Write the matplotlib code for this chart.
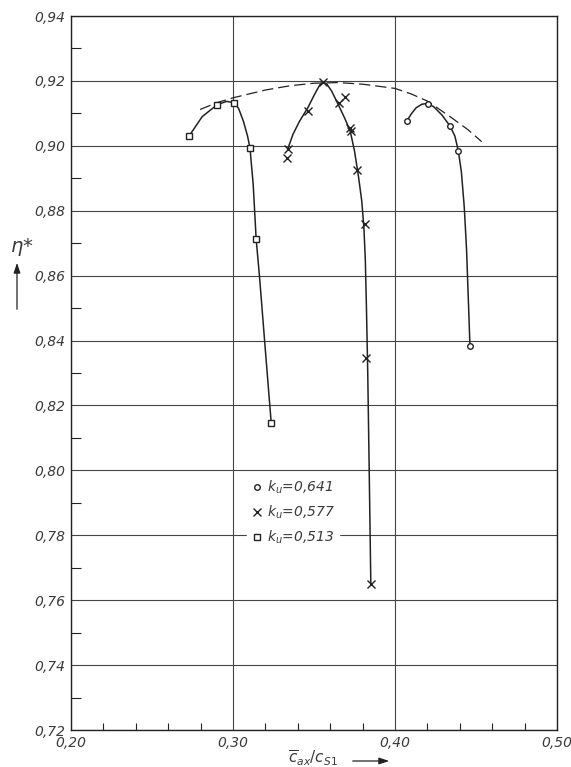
import matplotlib
matplotlib.use("Agg")
import matplotlib.pyplot as plt

# measured points, k_u = 0,641 (circles)
x_641 = [0.4073, 0.4202, 0.4340, 0.4391, 0.4463]
y_641 = [0.9076, 0.9129, 0.9061, 0.8985, 0.8383]

# k_u = 0,577 (crosses)
x_577 = [0.3338, 0.3334, 0.3465, 0.3556, 0.3689, 0.3652, 0.3724, 0.3730, 0.3765, 0.3812, 0.3820, 0.3851]
y_577 = [0.8990, 0.8963, 0.9107, 0.9197, 0.9151, 0.9133, 0.9055, 0.9047, 0.8925, 0.8759, 0.8345, 0.7650]

# k_u = 0,513 (squares)
x_513 = [0.2729, 0.2903, 0.3006, 0.3105, 0.3143, 0.3236]
y_513 = [0.9030, 0.9127, 0.9133, 0.8994, 0.8714, 0.8147]

# hand drawn curves
cx_641 = [0.4073, 0.4100, 0.4130, 0.4165, 0.4202, 0.4240, 0.4290, 0.4340, 0.4370, 0.4391,
          0.4410, 0.4428, 0.4442, 0.4452, 0.4463]
cy_641 = [0.9076, 0.9098, 0.9117, 0.9128, 0.9131, 0.9120, 0.9095, 0.9061, 0.9030, 0.8985,
          0.8920, 0.8810, 0.8680, 0.8540, 0.8383]

cx_577 = [0.3338, 0.3370, 0.3410, 0.3465, 0.3505, 0.3535, 0.3556, 0.3580, 0.3610, 0.3652,
          0.3690, 0.3724, 0.3750, 0.3775, 0.3795, 0.3808, 0.3817, 0.3824, 0.3832, 0.3841, 0.3851]
cy_577 = [0.8990, 0.9035, 0.9075, 0.9120, 0.9160, 0.9187, 0.9197, 0.9190, 0.9168, 0.9125,
          0.9085, 0.9045, 0.8985, 0.8905, 0.8830, 0.8750, 0.8650, 0.8500, 0.8300, 0.8000, 0.7650]

cx_513 = [0.2729, 0.2810, 0.2903, 0.2960, 0.3006, 0.3035, 0.3065, 0.3090, 0.3105, 0.3125,
          0.3143, 0.3165, 0.3200, 0.3236]
cy_513 = [0.9030, 0.9090, 0.9127, 0.9137, 0.9133, 0.9115, 0.9075, 0.9030, 0.8994, 0.8880,
          0.8714, 0.8590, 0.8370, 0.8147]

# dashed envelope
env_x = [0.2797, 0.290, 0.300, 0.310, 0.320, 0.335, 0.350, 0.365, 0.380, 0.400, 0.410, 0.420, 0.434, 0.445, 0.4535]
env_y = [0.9112, 0.9133, 0.9148, 0.9160, 0.9172, 0.9185, 0.9193, 0.9195, 0.9190, 0.9177, 0.9160, 0.9138, 0.9090, 0.9050, 0.9013]

xticks = [0.20, 0.30, 0.40, 0.50]
xlabels = ["0,20", "0,30", "0,40", "0,50"]
yticks = [0.72, 0.74, 0.76, 0.78, 0.80, 0.82, 0.84, 0.86, 0.88, 0.90, 0.92, 0.94]
ylabels = ["0,72", "0,74", "0,76", "0,78", "0,80", "0,82", "0,84", "0,86", "0,88", "0,90", "0,92", "0,94"]

ink = "#222222"
txt = "#3a3a3a"

fig = plt.figure(figsize=(5.71, 7.67), dpi=100)
ax = fig.add_axes([0.1243, 0.0482, 0.8511, 0.9309])

ax.plot(env_x, env_y, color=ink, lw=0.9, dashes=(9, 4))
ax.plot(cx_641, cy_641, color=ink, lw=1.1)
ax.plot(cx_577, cy_577, color=ink, lw=1.1)
ax.plot(cx_513, cy_513, color=ink, lw=1.1)

ax.plot(x_641, y_641, ls="none", marker="o", ms=4, mfc="white", mec=ink, mew=1.0,
        label=r"$k_u$=0,641", zorder=5)
ax.plot(x_577, y_577, ls="none", marker="x", ms=5.5, mec=ink, mew=1.0,
        label=r"$k_u$=0,577", zorder=5)
ax.plot(x_513, y_513, ls="none", marker="s", ms=5, mfc="white", mec=ink, mew=1.0,
        label=r"$k_u$=0,513", zorder=5)

ax.set_xlim(0.20, 0.50)
ax.set_ylim(0.72, 0.94)
ax.set_xticks(xticks)
ax.set_xticklabels(xlabels, fontstyle="italic", fontsize=10, color=txt)
ax.set_yticks(yticks)
ax.set_yticklabels(ylabels, fontstyle="italic", fontsize=10, color=txt)
ax.set_xticks([0.22, 0.24, 0.26, 0.28, 0.32, 0.34, 0.36, 0.38, 0.42, 0.44, 0.46, 0.48], minor=True)
ax.set_yticks([0.73, 0.75, 0.77, 0.79, 0.81, 0.83, 0.85, 0.87, 0.89, 0.91, 0.93], minor=True)
ax.tick_params(which="major", length=0, pad=4)
ax.tick_params(which="minor", direction="in", width=0.8, color=ink)
ax.tick_params(axis="y", which="minor", length=7)
ax.tick_params(axis="x", which="minor", length=5)
ax.grid(True, which="major", color="#444444", lw=0.8)
ax.set_axisbelow(True)
for s in ax.spines.values():
    s.set_color(ink)
    s.set_linewidth(1.0)

leg = ax.legend(loc="center", bbox_to_anchor=(0.457, 0.305), frameon=True, fontsize=10,
                handlelength=0.8, handletextpad=0.3, labelspacing=0.55, borderpad=0.3)
leg.get_frame().set_edgecolor("white")
leg.get_frame().set_facecolor("white")
leg.get_frame().set_alpha(1.0)
for t in leg.get_texts():
    t.set_fontstyle("italic")
    t.set_color(txt)

# axis labels with arrows, as in the original drawing
fig.text(22 / 571, 1 - 247 / 767, r"$\eta$*", fontsize=14, ha="center", va="center", color=txt)
fig.patches.append(matplotlib.patches.FancyArrowPatch(
    (17 / 571, 1 - 312 / 767), (17 / 571, 1 - 260 / 767), transform=fig.transFigure,
    arrowstyle="-|>,head_length=6,head_width=2", lw=0.9, color=ink))

fig.text(313 / 571, 1 - 758 / 767, r"$\overline{c}_{ax}/c_{S1}$", fontsize=11,
         ha="center", va="center", color=txt)
fig.patches.append(matplotlib.patches.FancyArrowPatch(
    (350 / 571, 1 - 761 / 767), (392 / 571, 1 - 761 / 767), transform=fig.transFigure,
    arrowstyle="-|>,head_length=6,head_width=2", lw=0.9, color=ink))

fig.savefig("out.png", dpi=100, facecolor="white")
